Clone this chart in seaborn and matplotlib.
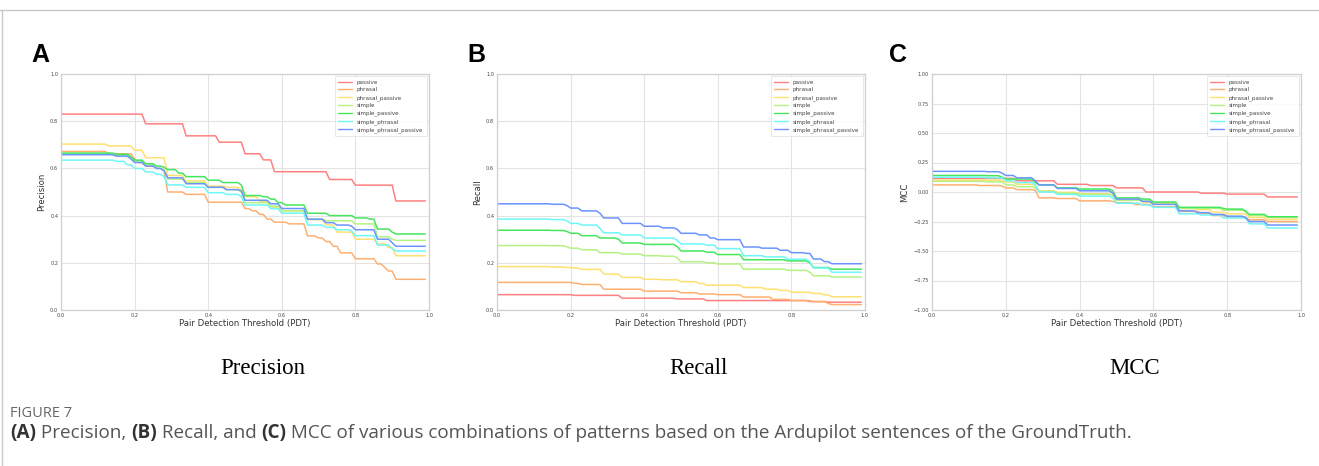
import numpy as np
import pandas as pd
import matplotlib
matplotlib.use("Agg")
import matplotlib.pyplot as plt
import seaborn as sns
from matplotlib.lines import Line2D

# ---------------- data (step thresholds, value holding from that threshold) -------------
SERIES = ["passive", "phrasal", "phrasal_passive", "simple", "simple_passive",
          "simple_phrasal", "simple_phrasal_passive"]
COLORS = ["#ff8080", "#ffb070", "#ffe070", "#b6f283", "#45e65e", "#6ef7f7", "#6b94ff"]

P_PASSIVE = [(0, 0.83), (0.23, 0.789), (0.34, 0.738), (0.43, 0.711), (0.50, 0.662), (0.55, 0.636),
             (0.58, 0.586), (0.73, 0.553), (0.80, 0.529), (0.91, 0.462)]
P_PHRASAL = [(0, 0.672), (0.13, 0.662), (0.20, 0.64), (0.21, 0.625), (0.23, 0.61), (0.26, 0.60),
             (0.28, 0.59), (0.29, 0.50), (0.34, 0.49), (0.40, 0.457), (0.50, 0.43), (0.52, 0.42),
             (0.54, 0.405), (0.56, 0.385), (0.58, 0.372), (0.62, 0.365), (0.67, 0.314), (0.70, 0.305),
             (0.72, 0.29), (0.74, 0.27), (0.76, 0.242), (0.80, 0.217), (0.86, 0.195), (0.88, 0.18),
             (0.89, 0.165), (0.91, 0.13)]
P_PHRASAL_PASSIVE = [(0, 0.703), (0.13, 0.695), (0.20, 0.677), (0.23, 0.645), (0.29, 0.57), (0.34, 0.547),
                     (0.40, 0.525), (0.45, 0.52), (0.49, 0.51), (0.50, 0.48), (0.54, 0.46), (0.57, 0.435),
                     (0.60, 0.42), (0.67, 0.383), (0.72, 0.36), (0.75, 0.33), (0.80, 0.30), (0.86, 0.28),
                     (0.89, 0.265), (0.91, 0.23)]
P_SIMPLE = [(0, 0.66), (0.15, 0.655), (0.19, 0.645), (0.20, 0.63), (0.23, 0.615), (0.26, 0.60),
            (0.28, 0.595), (0.29, 0.555), (0.34, 0.54), (0.40, 0.52), (0.45, 0.51), (0.49, 0.50),
            (0.50, 0.455), (0.57, 0.44), (0.60, 0.42), (0.67, 0.384), (0.72, 0.378), (0.80, 0.365),
            (0.86, 0.31), (0.90, 0.30), (0.91, 0.295)]
P_SIMPLE_PASSIVE = [(0, 0.665), (0.15, 0.66), (0.19, 0.65), (0.20, 0.635), (0.23, 0.62), (0.26, 0.61),
                    (0.28, 0.605), (0.29, 0.595), (0.32, 0.58), (0.34, 0.565), (0.40, 0.55), (0.44, 0.54),
                    (0.49, 0.53), (0.50, 0.485), (0.55, 0.48), (0.57, 0.47), (0.59, 0.455), (0.61, 0.445),
                    (0.67, 0.41), (0.73, 0.40), (0.80, 0.39), (0.84, 0.385), (0.86, 0.343), (0.90, 0.33),
                    (0.91, 0.322)]
P_SIMPLE_PHRASAL = [(0, 0.635), (0.15, 0.63), (0.18, 0.615), (0.20, 0.60), (0.23, 0.585), (0.26, 0.575),
                    (0.28, 0.565), (0.29, 0.53), (0.34, 0.52), (0.40, 0.497), (0.45, 0.49), (0.49, 0.48),
                    (0.50, 0.445), (0.57, 0.43), (0.60, 0.41), (0.67, 0.36), (0.72, 0.35), (0.75, 0.34),
                    (0.79, 0.335), (0.80, 0.315), (0.86, 0.275), (0.90, 0.26), (0.91, 0.25)]
P_SIMPLE_PHRASAL_PASSIVE = [(0, 0.658), (0.15, 0.652), (0.19, 0.64), (0.20, 0.625), (0.23, 0.61), (0.26, 0.60),
                            (0.28, 0.59), (0.29, 0.56), (0.34, 0.535), (0.40, 0.52), (0.45, 0.51), (0.49, 0.505),
                            (0.50, 0.465), (0.57, 0.45), (0.60, 0.43), (0.67, 0.385), (0.72, 0.37), (0.75, 0.36),
                            (0.79, 0.355), (0.80, 0.34), (0.86, 0.30), (0.90, 0.285), (0.91, 0.27)]

R_PASSIVE = [(0, 0.065), (0.21, 0.062), (0.34, 0.05), (0.49, 0.047), (0.57, 0.04), (0.85, 0.036), (0.90, 0.033)]
R_PHRASAL = [(0, 0.117), (0.21, 0.113), (0.23, 0.108), (0.29, 0.088), (0.40, 0.08), (0.50, 0.073), (0.55, 0.068),
             (0.60, 0.065), (0.67, 0.055), (0.75, 0.045), (0.80, 0.04), (0.86, 0.035), (0.90, 0.028), (0.91, 0.023)]
R_PHRASAL_PASSIVE = [(0, 0.184), (0.15, 0.182), (0.19, 0.18), (0.21, 0.178), (0.23, 0.172), (0.29, 0.152),
                     (0.34, 0.138), (0.40, 0.13), (0.45, 0.128), (0.50, 0.12), (0.55, 0.112), (0.57, 0.105),
                     (0.67, 0.095), (0.73, 0.088), (0.77, 0.083), (0.80, 0.075), (0.86, 0.07), (0.89, 0.064),
                     (0.91, 0.056)]
R_SIMPLE = [(0, 0.273), (0.15, 0.272), (0.19, 0.268), (0.20, 0.262), (0.23, 0.255), (0.28, 0.243), (0.34, 0.237),
            (0.40, 0.23), (0.45, 0.228), (0.49, 0.22), (0.50, 0.204), (0.57, 0.2), (0.60, 0.195), (0.67, 0.173),
            (0.79, 0.168), (0.85, 0.16), (0.86, 0.145), (0.91, 0.14)]
R_SIMPLE_PASSIVE = [(0, 0.338), (0.15, 0.337), (0.19, 0.333), (0.20, 0.325), (0.23, 0.315), (0.28, 0.305),
                    (0.33, 0.3), (0.34, 0.284), (0.40, 0.278), (0.49, 0.268), (0.50, 0.25), (0.57, 0.245),
                    (0.60, 0.235), (0.67, 0.213), (0.79, 0.208), (0.85, 0.2), (0.86, 0.18), (0.91, 0.173)]
R_SIMPLE_PHRASAL = [(0, 0.385), (0.15, 0.383), (0.19, 0.378), (0.20, 0.367), (0.23, 0.36), (0.28, 0.345),
                    (0.29, 0.327), (0.34, 0.318), (0.40, 0.305), (0.49, 0.295), (0.50, 0.28), (0.57, 0.275),
                    (0.60, 0.26), (0.67, 0.23), (0.73, 0.225), (0.79, 0.215), (0.85, 0.205), (0.86, 0.178),
                    (0.91, 0.16)]
R_SIMPLE_PHRASAL_PASSIVE = [(0, 0.45), (0.15, 0.448), (0.19, 0.443), (0.20, 0.432), (0.23, 0.42), (0.28, 0.41),
                            (0.29, 0.39), (0.34, 0.367), (0.40, 0.355), (0.45, 0.348), (0.49, 0.342), (0.50, 0.325),
                            (0.55, 0.318), (0.58, 0.305), (0.60, 0.298), (0.67, 0.267), (0.72, 0.262), (0.77, 0.253),
                            (0.80, 0.243), (0.84, 0.24), (0.86, 0.216), (0.89, 0.205), (0.91, 0.196)]

M_PASSIVE = [(0, 0.115), (0.23, 0.095), (0.34, 0.065), (0.43, 0.055), (0.50, 0.035), (0.58, 0.0), (0.73, -0.01),
             (0.80, -0.018), (0.91, -0.042)]
M_PHRASAL = [(0, 0.06), (0.13, 0.055), (0.19, 0.05), (0.20, 0.035), (0.23, 0.02), (0.28, 0.015), (0.29, -0.05),
             (0.34, -0.055), (0.40, -0.075), (0.49, -0.08), (0.50, -0.09), (0.55, -0.105), (0.60, -0.125),
             (0.67, -0.165), (0.73, -0.18), (0.76, -0.2), (0.80, -0.215), (0.86, -0.235), (0.91, -0.25)]
M_PHRASAL_PASSIVE = [(0, 0.10), (0.19, 0.095), (0.20, 0.085), (0.23, 0.065), (0.28, 0.055), (0.29, 0.01),
                     (0.34, -0.003), (0.40, -0.015), (0.49, -0.03), (0.50, -0.06), (0.57, -0.085), (0.60, -0.1),
                     (0.67, -0.14), (0.72, -0.15), (0.76, -0.17), (0.80, -0.185), (0.86, -0.215), (0.91, -0.232)]
M_SIMPLE = [(0, 0.09), (0.15, 0.085), (0.20, 0.06), (0.23, 0.045), (0.28, 0.035), (0.29, 0.005), (0.34, -0.01),
            (0.40, -0.02), (0.49, -0.03), (0.50, -0.07), (0.60, -0.09), (0.67, -0.14), (0.79, -0.155),
            (0.85, -0.165), (0.86, -0.2), (0.91, -0.215)]
M_SIMPLE_PASSIVE = [(0, 0.14), (0.15, 0.138), (0.19, 0.125), (0.20, 0.11), (0.28, 0.08), (0.29, 0.06),
                    (0.34, 0.035), (0.40, 0.025), (0.49, 0.01), (0.50, -0.05), (0.57, -0.06), (0.60, -0.085),
                    (0.67, -0.13), (0.79, -0.14), (0.80, -0.145), (0.85, -0.16), (0.86, -0.19), (0.91, -0.21)]
M_SIMPLE_PHRASAL = [(0, 0.125), (0.15, 0.12), (0.20, 0.095), (0.23, 0.08), (0.28, 0.06), (0.29, 0.0),
                    (0.34, -0.02), (0.40, -0.035), (0.49, -0.05), (0.50, -0.095), (0.57, -0.11), (0.60, -0.13),
                    (0.67, -0.185), (0.73, -0.195), (0.79, -0.22), (0.86, -0.27), (0.91, -0.305)]
M_SIMPLE_PHRASAL_PASSIVE = [(0, 0.175), (0.15, 0.172), (0.19, 0.16), (0.20, 0.14), (0.23, 0.12), (0.28, 0.095),
                            (0.29, 0.06), (0.34, 0.03), (0.40, 0.01), (0.49, -0.01), (0.50, -0.06), (0.57, -0.08),
                            (0.60, -0.105), (0.67, -0.16), (0.72, -0.175), (0.76, -0.19), (0.80, -0.205),
                            (0.85, -0.215), (0.86, -0.25), (0.91, -0.28)]

PRECISION = [P_PASSIVE, P_PHRASAL, P_PHRASAL_PASSIVE, P_SIMPLE, P_SIMPLE_PASSIVE, P_SIMPLE_PHRASAL,
             P_SIMPLE_PHRASAL_PASSIVE]
RECALL = [R_PASSIVE, R_PHRASAL, R_PHRASAL_PASSIVE, R_SIMPLE, R_SIMPLE_PASSIVE, R_SIMPLE_PHRASAL,
          R_SIMPLE_PHRASAL_PASSIVE]
MCC = [M_PASSIVE, M_PHRASAL, M_PHRASAL_PASSIVE, M_SIMPLE, M_SIMPLE_PASSIVE, M_SIMPLE_PHRASAL,
       M_SIMPLE_PHRASAL_PASSIVE]

THRESHOLDS = np.round(np.arange(0, 1.0, 0.01), 2)  # thresholds evaluated: 0.00 .. 0.99


def to_frame(steps_list):
    rows = []
    for name, steps in zip(SERIES, steps_list):
        xs = np.array([s[0] for s in steps])
        vs = np.array([s[1] for s in steps])
        for t in THRESHOLDS:
            idx = np.searchsorted(xs, t + 1e-9, side="right") - 1
            rows.append((name, t, vs[idx]))
    return pd.DataFrame(rows, columns=["pattern", "pdt", "value"])


# ---------------- figure ----------------
sns.set_theme(style="whitegrid")
plt.rcParams["font.family"] = ["DejaVu Sans"]

fig = plt.figure(figsize=(13.19, 4.66), dpi=100)
W, H = 1319, 466

panels = [
    ("A", PRECISION, "Precision", 61, 429, (0, 1), [0, 0.2, 0.4, 0.6, 0.8, 1.0], "{:.1f}", 31, 263),
    ("B", RECALL, "Recall", 497, 865, (0, 1), [0, 0.2, 0.4, 0.6, 0.8, 1.0], "{:.1f}", 467, 698),
    ("C", MCC, "MCC", 932, 1301, (-1, 1), [-1, -0.75, -0.5, -0.25, 0, 0.25, 0.5, 0.75, 1.0], "{:.2f}", 889, 1135),
]
top_px, bot_px = 74, 310
palette = dict(zip(SERIES, COLORS))

for letter, data, ylabel, lpx, rpx, ylim, yticks, fmt, letter_x, sub_x in panels:
    ax = fig.add_axes([lpx / W, (H - bot_px) / H, (rpx - lpx) / W, (bot_px - top_px) / H])
    df = to_frame(data)
    sns.lineplot(data=df, x="pdt", y="value", hue="pattern", hue_order=SERIES, palette=palette,
                 ax=ax, linewidth=1.1, estimator=None, sort=False, legend=False)
    ax.set_xlim(0, 1)
    ax.set_ylim(*ylim)
    ax.set_xticks([0, 0.2, 0.4, 0.6, 0.8, 1.0])
    ax.set_xticklabels(["0.0", "0.2", "0.4", "0.6", "0.8", "1.0"])
    ax.set_yticks(yticks)
    ax.set_yticklabels([fmt.format(v).replace("-", "\u2212") for v in yticks])
    ax.tick_params(axis="both", labelsize=3.6, pad=2, colors="#444444", length=0)
    ax.grid(True, color="#e3e3e3", linewidth=0.8)
    for sp in ax.spines.values():
        sp.set_color("#cfcfcf")
        sp.set_linewidth(0.9)
    ax.set_xlabel("Pair Detection Threshold (PDT)", fontsize=6.1, color="#333333", labelpad=1)
    ax.set_ylabel(ylabel, fontsize=6.1, color="#333333", labelpad=3)
    handles = [Line2D([0], [0], color=c, lw=1.0) for c in COLORS]
    leg = ax.legend(handles, SERIES, loc="upper right", fontsize=4.1, frameon=True,
                    handlelength=2.4, labelspacing=0.45, borderpad=0.6, handletextpad=0.9,
                    borderaxespad=0.4, fancybox=False)
    leg.get_frame().set_edgecolor("#dddddd")
    leg.get_frame().set_linewidth(0.6)
    for t in leg.get_texts():
        t.set_color("#444444")

    fig.text(letter_x / W, (H - 62) / H, letter, fontsize=18, fontweight="bold",
             family="Liberation Sans", ha="left", va="baseline", color="black")
    fig.text(sub_x / W, (H - 374) / H, ylabel, fontsize=16.5, family="Liberation Serif",
             ha="center", va="baseline", color="black")

# frame lines
fig.add_artist(Line2D([0, 1], [(H - 10) / H, (H - 10) / H], transform=fig.transFigure,
                      color="#c8c8c8", lw=1.0))
fig.add_artist(Line2D([2 / W, 2 / W], [0, (H - 10) / H], transform=fig.transFigure,
                      color="#c8c8c8", lw=1.0))

# caption
fig.text(10 / W, (H - 417) / H, "FIGURE 7", fontsize=10.5, family="Open Sans",
         color="#666666", ha="left", va="baseline")

pieces = [("(A)", True), (" Precision, ", False), ("(B)", True), (" Recall, and ", False),
          ("(C)", True), (" MCC of various combinations of patterns based on the Ardupilot sentences of the GroundTruth.", False)]
renderer = fig.canvas.get_renderer()
x = 10 / W
for txt, bold in pieces:
    t = fig.text(x, (H - 438) / H, txt, fontsize=13.6, family="Open Sans",
                 fontweight="bold" if bold else "normal",
                 color="#333333" if bold else "#555555", ha="left", va="baseline")
    bb = t.get_window_extent(renderer=renderer)
    x = (bb.x1) / W

fig.savefig("out.png", dpi=100, facecolor="white")
